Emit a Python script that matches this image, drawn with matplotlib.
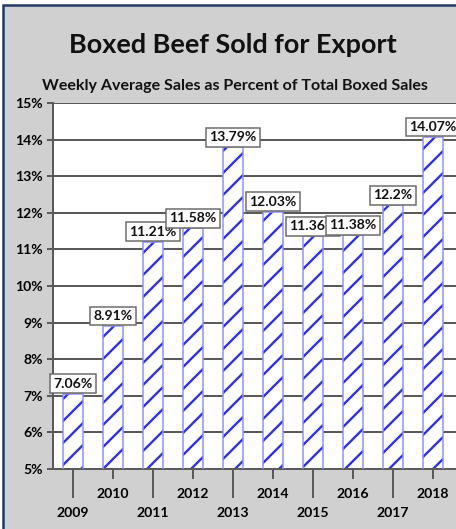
import matplotlib
matplotlib.use('Agg')
import matplotlib.pyplot as plt
from matplotlib.patches import Rectangle

# 数据
years = ['2009', '2010', '2011', '2012', '2013', '2014', '2015', '2016', '2017', '2018']
share = [7.06, 8.91, 11.21, 11.58, 13.79, 12.03, 11.36, 11.38, 12.2, 14.07]
yticks = [5, 6, 7, 8, 9, 10, 11, 12, 13, 14, 15]

DPI = 132
W, H = 456, 529


def px(p):
    # 像素 -> 磅
    return p * 72.0 / DPI


plt.rcParams['font.family'] = ['Lato', 'DejaVu Sans']
plt.rcParams['font.weight'] = 'bold'
plt.rcParams['hatch.linewidth'] = px(2.4)

fig = plt.figure(figsize=(W / DPI, H / DPI), dpi=DPI)
fig.patch.set_facecolor('white')

# 灰色底板 + 深蓝边框
fig.patches.append(Rectangle((3 / W, -0.05), 1.1, (H - 5) / H + 0.05, transform=fig.transFigure,
                             facecolor='#d0d0d0', edgecolor='#1f3864', linewidth=px(2.5), zorder=-5))

fig.text(233 / W, 1 - 45 / H, 'Boxed Beef Sold for Export', ha='center', va='center',
         fontsize=px(27), fontweight='bold', color='#111111')
fig.text(235 / W, 1 - 86 / H, 'Weekly Average Sales as Percent of Total Boxed Sales', ha='center',
         va='center', fontsize=px(16), fontweight='bold', color='#111111')

ax = fig.add_axes([53 / W, 1 - 469 / H, (W - 53) / W, (469 - 103) / H])
ax.set_facecolor('white')
x = list(range(len(years)))

# 斜线填充 + 浅蓝边框
ax.bar(x, share, width=0.52, bottom=0, color='white', edgecolor='#3333e6', hatch='//', linewidth=0, zorder=2)
ax.bar(x, share, width=0.52, bottom=0, color='none', edgecolor='#8e8eff', linewidth=px(1.5), zorder=3)

ax.set_ylim(5, 15)
ax.set_xlim(-0.5, (W - 73) / 40)
ax.set_yticks(yticks, ['{}%'.format(v) for v in yticks])
ax.yaxis.grid(True, color='#5a5a5a', linewidth=px(2))
ax.set_axisbelow(True)

for s in ['top', 'right']:
    ax.spines[s].set_visible(False)
for s in ['left', 'bottom']:
    ax.spines[s].set_color('#5a5a5a')
    ax.spines[s].set_linewidth(px(2))

ax.tick_params(axis='y', length=px(6), width=px(2), color='#5a5a5a', pad=px(4), labelsize=px(14))
ax.set_xticks(x[0::2], years[0::2])
ax.set_xticks(x[1::2], years[1::2], minor=True)
ax.tick_params(axis='x', which='major', length=px(29), width=px(2), color='#5a5a5a', pad=px(9),
               labelsize=px(14))
ax.tick_params(axis='x', which='minor', length=px(10), width=px(2), color='#5a5a5a', pad=px(9),
               labelsize=px(14))

# 数值标签
for i, v in zip(x, share):
    ax.annotate('{:g}%'.format(v), (i, v), xytext=(0, px(4)), textcoords='offset points',
                ha='center', va='bottom', fontsize=px(14), fontweight='bold', color='#111111',
                bbox=dict(boxstyle='square,pad=0.24', facecolor='white', edgecolor='#6a6a6a',
                          linewidth=px(1.5)), zorder=5, annotation_clip=False)

fig.savefig('out.png', dpi=DPI)
